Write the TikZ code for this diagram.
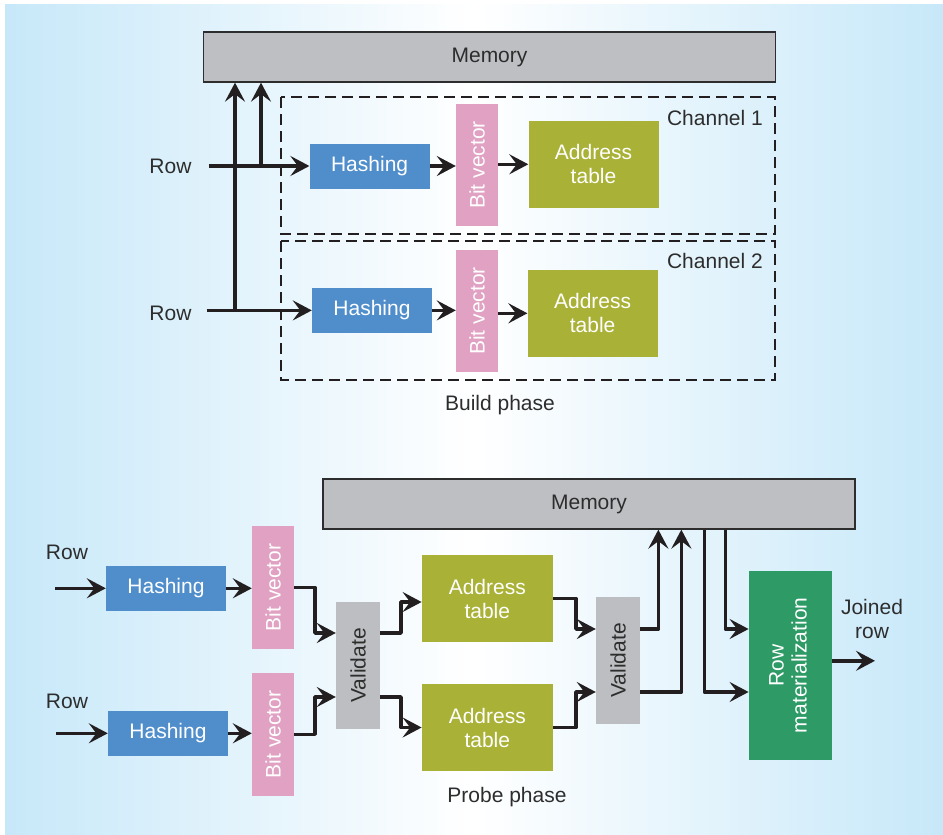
\documentclass[tikz,border=0pt]{standalone}
\usepackage{fontspec}
\setmainfont{Liberation Sans}
\usetikzlibrary{arrows.meta,calc}
\definecolor{bgblue}{RGB}{199,232,249}
\definecolor{hashblue}{RGB}{80,142,203}
\definecolor{bvpink}{RGB}{224,161,195}
\definecolor{atolive}{RGB}{169,178,54}
\definecolor{memgray}{RGB}{190,191,194}
\definecolor{valgray}{RGB}{189,190,193}
\definecolor{rmgreen}{RGB}{46,154,102}
\definecolor{inkblack}{RGB}{35,31,32}
\definecolor{txtdark}{RGB}{45,45,45}
\tikzset{
  every node/.style={font=\fontsize{21}{24}\selectfont, inner sep=0pt},
  membox/.style={draw=txtdark, line width=1.3pt, fill=memgray, text=txtdark},
  hashbox/.style={fill=hashblue, text=white, minimum width=120pt, minimum height=45pt},
  bvbox/.style={fill=bvpink, text=white, minimum width=42pt, minimum height=122pt},
  atbox/.style={fill=atolive, text=white, minimum width=130pt, minimum height=87pt, align=center},
  valbox/.style={fill=valgray, text=txtdark, minimum width=44pt, minimum height=127pt},
  rmbox/.style={fill=rmgreen, text=white, minimum width=83pt, minimum height=189pt},
  lbl/.style={text=txtdark, align=center},
  arr/.style={draw=inkblack, line width=3.6pt, line join=round,
    -{Stealth[length=19pt,width=20pt,inset=7.5pt]}},
  chanbox/.style={draw=inkblack, line width=2.4pt, dash pattern=on 11pt off 6pt},
}
\begin{document}
\begin{tikzpicture}[x=1pt,y=-1pt]
\useasboundingbox (0,0) rectangle (943,835);
\shade[left color=bgblue, right color=bgblue, middle color=white] (5,4) rectangle (943,835);

% ---------- Build phase ----------
\node[membox, minimum width=572pt, minimum height=50pt] (mem1) at (489.5,57) {Memory};
\draw[chanbox] (281,97) rectangle (775,234);
\draw[chanbox] (281,241) rectangle (775,380);
\node[lbl, anchor=east] (ch1) at (763,118) {Channel 1};
\node[lbl, anchor=east] (ch2) at (763,261) {Channel 2};

\node[hashbox] (h1) at (369.6,166) {Hashing};
\node[bvbox] (bv1) at (477,165) {\rotatebox{90}{Bit vector}};
\node[atbox] (at1) at (593.5,164.3) {Address\\table};
\node[hashbox] (h2) at (372,310.4) {Hashing};
\node[bvbox] (bv2) at (477,311) {\rotatebox{90}{Bit vector}};
\node[atbox] (at2) at (592.6,313.3) {Address\\table};

\node[lbl] (row1) at (170.5,166) {Row};
\node[lbl] (row2) at (170.5,313) {Row};
\node[lbl] (build) at (500,405) {Build phase};

\coordinate (r1) at (208.6,166);
\coordinate (r2) at (206.5,310.4);
\coordinate (j1) at (261,166);
\coordinate (j2) at (235,310.4);
\draw[arr] (r1) -- (h1.west);
\draw[arr] (r2) -- (h2.west);
\draw[arr] (j1) -- (j1 |- mem1.south);
\draw[arr] (j2) -- (j2 |- mem1.south);
\draw[arr] (h1.east) -- (h1.east -| bv1.west);
\draw[arr] (h2.east) -- (h2.east -| bv2.west);
\draw[arr] (bv1.east |- at1.west) -- (at1.west);
\draw[arr] (bv2.east |- at2.west) -- (at2.west);

% ---------- Probe phase ----------
\node[membox, minimum width=532pt, minimum height=50pt] (mem2) at (589,504) {Memory};

\node[lbl] (prow1) at (67,552) {Row};
\node[lbl] (prow2) at (67,701) {Row};
\node[hashbox] (bh1) at (166,588.3) {Hashing};
\node[hashbox] (bh2) at (168,733.3) {Hashing};
\node[bvbox, minimum height=123pt] (bb1) at (273,587.5) {\rotatebox{90}{Bit vector}};
\node[bvbox, minimum height=123pt] (bb2) at (273,734.3) {\rotatebox{90}{Bit vector}};
\node[valbox] (val1) at (358,665.3) {\rotatebox{90}{Validate}};
\node[atbox, minimum width=131pt] (bat1) at (487.3,598.5) {Address\\table};
\node[atbox, minimum width=131pt] (bat2) at (487.3,727.5) {Address\\table};
\node[valbox] (val2) at (618,660.3) {\rotatebox{90}{Validate}};
\node[rmbox] (rm) at (790.3,665.3) {\rotatebox{90}{\begin{tabular}{@{}c@{}}Row\\[-1pt]materialization\end{tabular}}};
\node[lbl] (joined) at (872,619) {Joined\\row};
\node[lbl] (probe) at (507,797) {Probe phase};

\coordinate (in1) at (55,588.3);
\coordinate (in2) at (56,733.3);
\coordinate (out) at (875,660.8);

\draw[arr] (in1) -- (bh1.west);
\draw[arr] (in2) -- (bh2.west);
\draw[arr] (bh1.east) -- (bh1.east -| bb1.west);
\draw[arr] (bh2.east) -- (bh2.east -| bb2.west);
\draw[arr] (bb1.east) -| (315,633) -- ([yshift=32.3pt]val1.west);
\draw[arr] (bb2.east) -| (315,697) -- ([yshift=-31.7pt]val1.west);
\draw[arr] ([yshift=32.3pt]val1.east) -| (401,602) -- ([yshift=-3.5pt]bat1.west);
\draw[arr] ([yshift=-31.7pt]val1.east) -| (401,727.5) -- (bat2.west);
\draw[arr] (bat1.east) -| (576,629) -- ([yshift=31.3pt]val2.west);
\draw[arr] (bat2.east) -| (576,692) -- ([yshift=-31.7pt]val2.west);
\draw[arr] ([yshift=31.3pt]val2.east) -| ([xshift=336pt]mem2.south west);
\draw[arr] ([yshift=-31.7pt]val2.east) -| ([xshift=359pt]mem2.south west);
\draw[arr] ([xshift=382pt]mem2.south west) |- ([yshift=-26.7pt]rm.west);
\draw[arr] ([xshift=403pt]mem2.south west) |- ([yshift=36.3pt]rm.west);
\draw[arr] ([yshift=4.5pt]rm.east) -- (out);
\end{tikzpicture}
\end{document}
